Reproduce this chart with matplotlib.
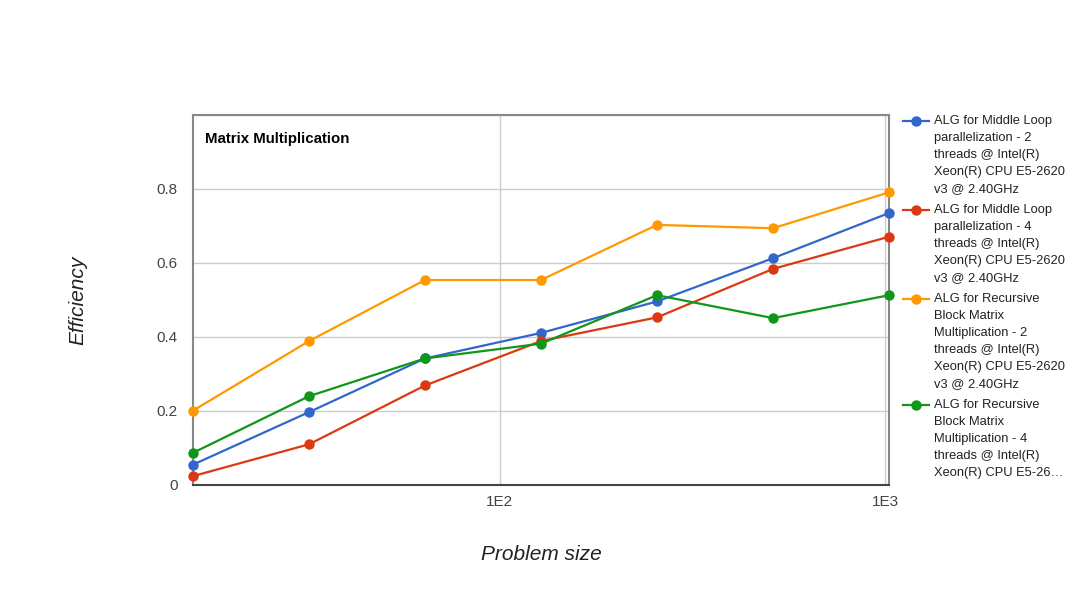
import numpy as np
import matplotlib
matplotlib.use("Agg")
import matplotlib.pyplot as plt
from matplotlib.lines import Line2D

plt.rcParams["font.family"] = ["Liberation Sans", "DejaVu Sans"]

sizes = [16, 32, 64, 128, 256, 512, 1024]
mid_2 = [0.055, 0.197, 0.342, 0.411, 0.496, 0.613, 0.735]
mid_4 = [0.024, 0.110, 0.269, 0.389, 0.453, 0.584, 0.671]
rec_2 = [0.201, 0.389, 0.554, 0.554, 0.703, 0.694, 0.791]
rec_4 = [0.087, 0.240, 0.342, 0.382, 0.513, 0.451, 0.513]

series = [mid_2, mid_4, rec_2, rec_4]
colors = ["#3366cc", "#dc3912", "#ff9900", "#109618"]
labels = [
    ["ALG for Middle Loop", "parallelization - 2", "threads @ Intel(R)",
     "Xeon(R) CPU E5-2620", "v3 @ 2.40GHz"],
    ["ALG for Middle Loop", "parallelization - 4", "threads @ Intel(R)",
     "Xeon(R) CPU E5-2620", "v3 @ 2.40GHz"],
    ["ALG for Recursive", "Block Matrix", "Multiplication - 2",
     "threads @ Intel(R)", "Xeon(R) CPU E5-2620", "v3 @ 2.40GHz"],
    ["ALG for Recursive", "Block Matrix", "Multiplication - 4",
     "threads @ Intel(R)", "Xeon(R) CPU E5-26\u2026"],
]
yticks = [0, 0.2, 0.4, 0.6, 0.8]
xticks = [100, 1000]
xticklabels = ["1E2", "1E3"]

W, H = 1082, 600
fig = plt.figure(figsize=(W / 100, H / 100), dpi=100)
ax = fig.add_axes([193 / W, 1 - 485 / H, 696 / W, 370 / H])

for vals, c in zip(series, colors):
    ax.plot(sizes, vals, color=c, lw=1.6, marker="o", ms=6.5, clip_on=False, zorder=3)

ax.set_xscale("log")
ax.set_xlim(16, 1024)
ax.set_ylim(0, 1.0)
ax.set_xticks(xticks)
ax.set_xticklabels(xticklabels)
ax.minorticks_off()
ax.set_yticks(yticks)
ax.set_yticklabels(["0", "0.2", "0.4", "0.6", "0.8"])
ax.tick_params(length=0, labelsize=11, labelcolor="#444444")
ax.tick_params(axis="y", pad=11)
ax.tick_params(axis="x", pad=7)

for y in yticks[1:] + [1.0]:
    ax.axhline(y, color="#cccccc", lw=1, zorder=1)
for x in xticks:
    ax.axvline(x, color="#cccccc", lw=1, zorder=1)

for s in ["top", "right", "left"]:
    ax.spines[s].set_color("#888888")
    ax.spines[s].set_linewidth(1.5)
ax.spines["bottom"].set_color("#444444")
ax.spines["bottom"].set_linewidth(1.5)

ax.text(0.017, 0.935, "Matrix Multiplication", transform=ax.transAxes,
        fontsize=10.8, fontweight="bold", va="center", ha="left", color="#000000")

ax.set_xlabel("Problem size", fontsize=15, style="italic", color="#222222")
ax.xaxis.set_label_coords(0.5, (485 - 554) / 370)
ax.xaxis.label.set_va("center")
ax.set_ylabel("Efficiency", fontsize=15, style="italic", color="#222222")
ax.yaxis.set_label_coords((78 - 193) / 696, 0.5)
ax.yaxis.label.set_va("center")

# legend, drawn by hand so the handle sits on the first line
y = 121
for lab, c in zip(labels, colors):
    fy = 1 - y / H
    fig.add_artist(Line2D([903 / W, 929 / W], [fy, fy], color=c, lw=1.6,
                          transform=fig.transFigure))
    fig.add_artist(Line2D([916 / W], [fy], color=c, marker="o", ms=6.5,
                          transform=fig.transFigure))
    for line in lab:
        fig.text(934 / W, 1 - y / H, line, fontsize=9.3, color="#222222",
                 va="center", ha="left")
        y += 17
    y += 4

fig.savefig("out.png", dpi=100)
